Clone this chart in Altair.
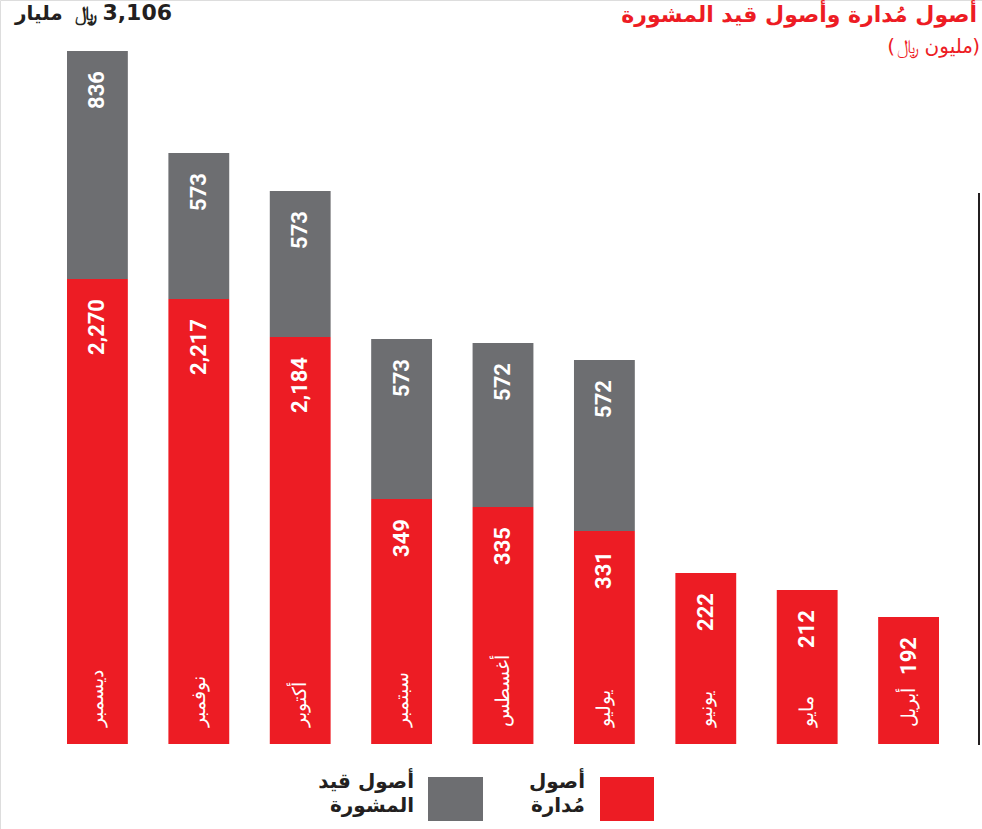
import altair as alt
import pandas as pd

# ---- data ----
months = ["ديسمبر", "نوفمبر", "أكتوبر", "سبتمبر", "أغسطس", "يوليو", "يونيو", "مايو", "أبريل"]
managed = [2270, 2217, 2184, 349, 335, 331, 222, 212, 192]
advisory = [836, 573, 573, 573, 572, 572, None, None, None]
# the reference draws bars with illustrative (non-proportional) lengths
managed_len = [465, 445, 407, 245, 237, 213, 171, 154, 127]
advisory_len = [228, 146, 146, 160, 164, 171, 0, 0, 0]

series_names = ["أصول مُدارة", "أصول قيد المشورة"]
series_colors = ["#ED1C24", "#6D6E71"]
legend_labels = ["أصول\nمُدارة", "أصول قيد\nالمشورة"]

title_text = "أصول مُدارة وأصول قيد المشورة"
riyal = "\uFDFC"
unit_million = "مليون"
unit_billion = "مليار"
total_value = "3,106"

# ---- tables ----
rows = []
for i, m in enumerate(months):
    rows.append({"month": m, "series": series_names[0], "y0": 0, "y1": managed_len[i],
                 "label": f"{managed[i]:,}"})
    if advisory[i] is not None:
        rows.append({"month": m, "series": series_names[1], "y0": managed_len[i],
                     "y1": managed_len[i] + advisory_len[i],
                     "label": f"{advisory[i]:,}"})
bars_df = pd.DataFrame(rows)
month_df = pd.DataFrame({"month": months})

FONT = "Roboto, DejaVu Sans"
AR_FONT = "DejaVu Sans"
RED, INK = "#ED1C24", "#231F20"

x_enc = alt.X("month:N", sort=months, axis=None,
              scale=alt.Scale(range=[67, 939], paddingInner=0.4, paddingOuter=0))
y_scale = alt.Scale(domain=[0, 700], range=[744, 44])

bars = alt.Chart(bars_df).mark_bar().encode(
    x=x_enc,
    y=alt.Y("y0:Q", scale=y_scale, axis=None),
    y2="y1:Q",
    color=alt.Color("series:N", scale=alt.Scale(domain=series_names, range=series_colors), legend=None),
)

values = alt.Chart(bars_df).mark_text(
    angle=270, align="right", baseline="middle", dx=-20, color="white",
    font=FONT, fontWeight="bold", fontSize=22,
).encode(x=x_enc, y=alt.Y("y1:Q", scale=y_scale), text="label:N")

month_labels = alt.Chart(month_df).mark_text(
    angle=270, align="left", baseline="middle", dx=17, color="white",
    font=AR_FONT, fontWeight=300, fontSize=19,
).encode(x=x_enc, y=alt.value(744), text="month:N")

vline = alt.Chart(month_df).mark_rule(color=INK, strokeWidth=2).encode(
    x=alt.value(979), y=alt.value(193), y2=alt.value(745))


def txt(s, x, y, align, color, font, size, weight="normal"):
    return alt.Chart(pd.DataFrame({"t": [s]})).mark_text(
        align=align, baseline="top", color=color, font=font,
        fontWeight=weight, fontSize=size,
    ).encode(x=alt.value(x), y=alt.value(y), text="t:N")


title = txt(title_text, 977, 5, "right", RED, AR_FONT, 22, "bold")
# subtitle "(riyal million)" laid out right-to-left piece by piece
sub_close = txt(")", 980, 37, "right", RED, AR_FONT, 20)
sub_word = txt(unit_million, 973, 37, "right", RED, AR_FONT, 20)
sub_sym = txt(riyal, 908, 37, "center", RED, AR_FONT, 20)
sub_open = txt("(", 895, 37, "right", RED, AR_FONT, 20)
# total "billion riyal 3,106"
tot_word = txt(unit_billion, 15, 4, "left", INK, AR_FONT, 20, "bold")
tot_sym = txt(riyal, 86, 4, "center", INK, AR_FONT, 20, "bold")
tot_val = txt(total_value, 172, 3, "right", INK, AR_FONT, 22, "bold")

# legend (right-to-left: label to the left of the swatch)
leg_red = alt.Chart(month_df.head(1)).mark_rect(color=series_colors[0]).encode(
    x=alt.value(600), x2=alt.value(654), y=alt.value(777), y2=alt.value(821))
leg_grey = alt.Chart(month_df.head(1)).mark_rect(color=series_colors[1]).encode(
    x=alt.value(428), x2=alt.value(483), y=alt.value(777), y2=alt.value(821))
leg_txt_red = alt.Chart(pd.DataFrame({"t": [legend_labels[0]]})).mark_text(
    align="right", baseline="top", lineBreak="\n", lineHeight=24, color=INK,
    font=AR_FONT, fontWeight="bold", fontSize=20,
).encode(x=alt.value(585), y=alt.value(772), text="t:N")
leg_txt_grey = alt.Chart(pd.DataFrame({"t": [legend_labels[1]]})).mark_text(
    align="right", baseline="top", lineBreak="\n", lineHeight=24, color=INK,
    font=AR_FONT, fontWeight="bold", fontSize=20,
).encode(x=alt.value(414), y=alt.value(772), text="t:N")

chart = alt.layer(
    bars, values, month_labels, vline, title,
    sub_close, sub_word, sub_sym, sub_open, tot_word, tot_sym, tot_val,
    leg_red, leg_grey, leg_txt_red, leg_txt_grey,
).properties(
    width=982, height=829, autosize="none", padding=0,
).configure_view(stroke=None).configure(background="white")

chart.save("out.html", embed_options={"renderer": "svg", "actions": False})
